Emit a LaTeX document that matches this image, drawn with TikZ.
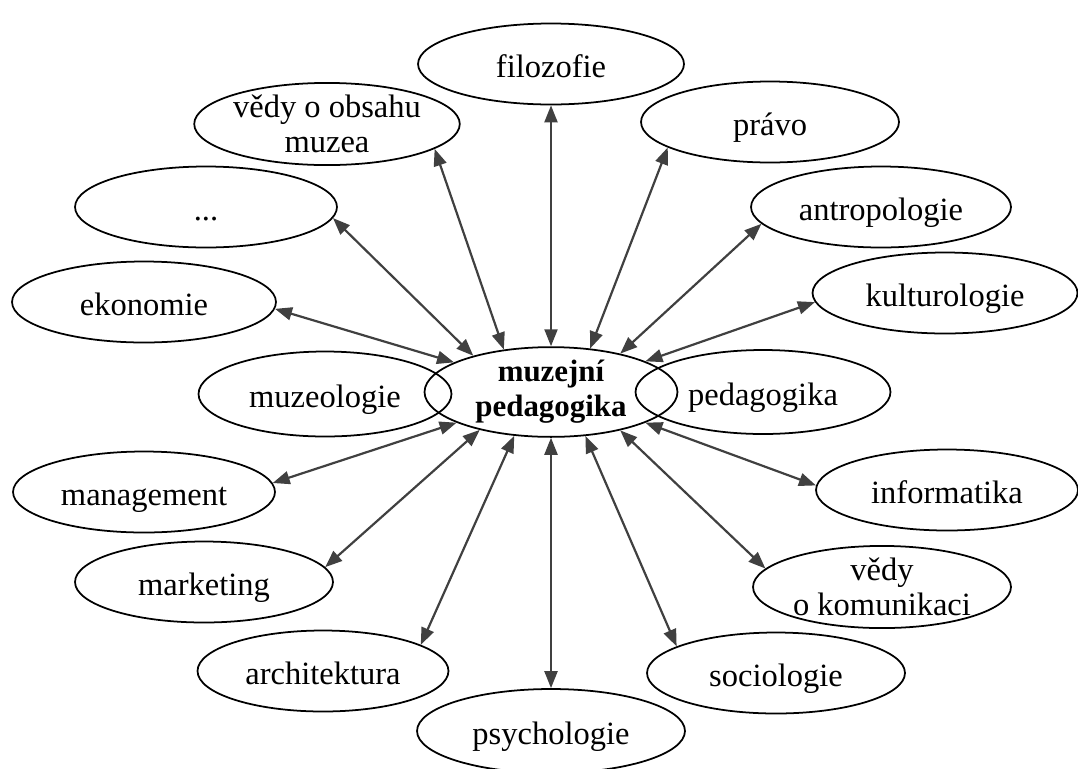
\documentclass[tikz,border=0pt]{standalone}
\usepackage{fontspec}
\setmainfont{Liberation Serif}
\usetikzlibrary{shapes.geometric,arrows.meta}

\tikzset{
  obor/.style={ellipse, draw, line width=1pt, inner sep=0pt,
    minimum width=5.16cm, minimum height=1.62cm, align=center,
    font=\fontsize{18.5}{20}\selectfont},
  jedno/.style={obor, text height=18pt, text depth=3pt},
  vazba/.style={{Triangle[length=0.34cm,width=0.26cm]}-{Triangle[length=0.34cm,width=0.26cm]},
    line width=1.25pt, draw=black!75}
}

\begin{document}
\begin{tikzpicture}[x=0.02cm,y=-0.02cm]
        \useasboundingbox (0,0) rectangle (1078,768);

        % Define nodes
        \node[obor, minimum width=5.06cm, minimum height=1.6cm,
              font=\bfseries\fontsize{17.6}{20}\selectfont] (M) at (551,392) {muzejní\\pedagogika};
        \node[jedno, minimum width=5.32cm] (FIL) at (551,64) {filozofie};
        \node[obor] (VOM) at (327,124) {vědy o obsahu\\muzea};
        \node[jedno] (PRA) at (770,122) {právo};
        \node[jedno, minimum width=5.24cm] (DOT) at (206,207) {...};
        \node[jedno, minimum width=5.2cm] (ANT) at (881,207) {antropologie};
        \node[jedno, minimum width=5.28cm] (EKO) at (144,302) {ekonomie};
        \node[jedno, minimum width=5.3cm] (KUL) at (945,293) {kulturologie};
        \node[jedno, minimum width=5.06cm, minimum height=1.7cm] (MUZ) at (325,394) {muzeologie};
        \node[jedno, minimum width=5.1cm, minimum height=1.68cm] (PED) at (763,392) {pedagogika};
        \node[jedno, minimum width=5.24cm] (MAN) at (144,492) {management};
        \node[jedno, minimum width=5.24cm] (INF) at (947,490) {informatika};
        \node[jedno] (MAR) at (204,582) {marketing};
        \node[obor] (KOM) at (882,587) {vědy\\o komunikaci};
        \node[jedno, minimum width=5.02cm] (ARC) at (323,671) {architektura};
        \node[jedno] (SOC) at (776,673) {sociologie};
        \node[jedno, minimum width=5.36cm, minimum height=1.68cm] (PSY) at (551,731) {psychologie};

        % Draw double arrows
        \draw[vazba] (M.north) -- (FIL.south);
        \draw[vazba] (M.138) -- (VOM.-13);
        \draw[vazba] (M.155) -- (DOT.-5);
        \draw[vazba] (M.163) -- (EKO.-3.5);
        \draw[vazba] (M.48) -- (PRA.194);
        \draw[vazba] (M.29) -- (ANT.188);
        \draw[vazba] (M.18) -- (KUL.184);
        \draw[vazba] (M.198) -- (MAN.4.5);
        \draw[vazba] (M.208) -- (MAR.7.5);
        \draw[vazba] (M.230) -- (ARC.15.6);
        \draw[vazba] (M.south) -- (PSY.north);
        \draw[vazba] (M.-52) -- (SOC.165);
        \draw[vazba] (M.-29) -- (KOM.171);
        \draw[vazba] (M.-18) -- (INF.178);
    \end{tikzpicture}
\end{document}
